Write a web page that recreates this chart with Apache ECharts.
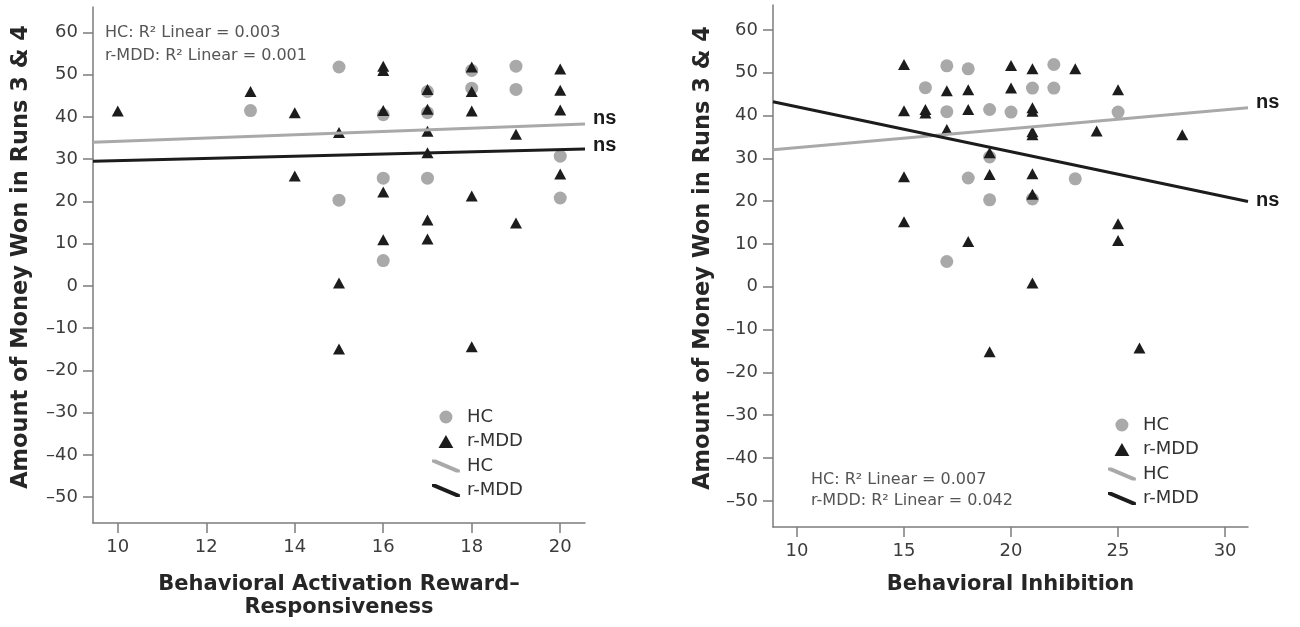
<!DOCTYPE html>
<html>
<head>
<meta charset="utf-8">
<script src="https://cdn.jsdelivr.net/npm/echarts@6/dist/echarts.min.js"></script>
<style>
  html, body { margin: 0; background: #fff; }
  #chart { width: 1300px; height: 627px; }
</style>
</head>
<body>
<div id="chart"></div>
<script>
// left panel: BAS reward responsiveness
const baHcX = [13, 15, 15, 16, 16, 16, 17, 17, 17, 18, 18, 19, 19, 20, 20];
const baHcY = [41.5, 51.8, 20.3, 40.5, 25.5, 6, 46, 41, 25.5, 51, 46.8, 52, 46.5, 30.7, 20.8];
const baMddX = [10, 13, 14, 14, 15, 15, 15, 16, 16, 16, 16, 16, 17, 17, 17, 17, 17, 17, 18, 18, 18, 18, 18, 19, 19, 20, 20, 20, 20];
const baMddY = [41.4, 46, 41, 26, 36.3, 0.7, -14.9, 52, 51, 41.5, 22.2, 10.9, 46.5, 41.8, 36.6, 31.5, 15.6, 11.1, 51.8, 46, 41.4, 21.3, -14.4, 35.9, 14.9, 51.3, 46.3, 41.6, 26.5];
const baHcFit = [[9.44, 34.0], [20.56, 38.3]];
const baMddFit = [[9.44, 29.5], [20.56, 32.4]];

// right panel: behavioral inhibition
const biHcX = [16, 17, 17, 17, 18, 18, 19, 19, 19, 20, 21, 21, 22, 22, 23, 25];
const biHcY = [46.5, 51.6, 40.9, 5.9, 50.9, 25.4, 41.4, 30.3, 20.3, 40.8, 46.4, 20.5, 51.9, 46.4, 25.2, 40.8];
const biMddX = [15, 15, 15, 15, 16, 16, 17, 17, 18, 18, 18, 19, 19, 19, 20, 20, 21, 21, 21, 21, 21, 21, 21, 21, 23, 24, 25, 25, 25, 26, 28];
const biMddY = [51.9, 41.1, 25.7, 15.2, 41.4, 40.6, 45.8, 36.7, 46, 41.4, 10.6, 31.3, 26.2, -15.2, 51.7, 46.4, 50.9, 41.8, 41, 36.2, 35.5, 26.4, 21.6, 0.9, 50.9, 36.4, 46, 14.7, 10.8, -14.3, 35.5];
const biHcFit = [[8.88, 32.0], [31.07, 41.8]];
const biMddFit = [[8.88, 43.2], [31.07, 19.9]];

const yTicks = [-50, -40, -30, -20, -10, 0, 10, 20, 30, 40, 50, 60];
const baTicks = [10, 12, 14, 16, 18, 20];
const biTicks = [10, 15, 20, 25, 30];

const font = 'DejaVu Sans';
const grey = '#a9a9a9';
const dark = '#1c1c1c';
const axisCol = '#7c7c7c';
const fitIcon = 'path://M0,0 L4,0 L30,11 L30,14 L26,14 L0,3 Z';
const triIcon = 'path://M6,0 L12,10.5 L0,10.5 Z';

const zip = (xs, ys) => xs.map((x, i) => [x, ys[i]]);
const dash = (v) => String(v).replace('-', '\u2013');

const xAxisOf = (idx, min, max, ticks, name, gap) => ({
  type: 'value',
  gridIndex: idx,
  min,
  max,
  name,
  nameLocation: 'middle',
  nameGap: gap,
  nameTextStyle: { fontFamily: font, fontWeight: 'bold', fontSize: 21, color: '#262626', lineHeight: 23 },
  axisLine: { onZero: false, lineStyle: { color: axisCol, width: 1.5 } },
  axisTick: { show: true, length: 10, customValues: ticks, lineStyle: { color: axisCol, width: 1.5 } },
  axisLabel: { customValues: ticks, margin: 15, fontFamily: font, fontSize: 18, color: '#3c3c3c' },
  splitLine: { show: false },
});

const yAxisOf = (idx, min, max, gap) => ({
  type: 'value',
  gridIndex: idx,
  min,
  max,
  name: 'Amount of Money Won in Runs 3 & 4',
  nameLocation: 'middle',
  nameGap: gap,
  nameTextStyle: { fontFamily: font, fontWeight: 'bold', fontSize: 22.5, color: '#262626', padding: [0, 0, 0, 16] },
  axisLine: { onZero: false, lineStyle: { color: axisCol, width: 1.5 } },
  axisTick: { show: true, length: 10, customValues: yTicks, lineStyle: { color: axisCol, width: 1.5 } },
  axisLabel: { customValues: yTicks, margin: 15, fontFamily: font, fontSize: 18, color: '#3c3c3c', formatter: dash },
  splitLine: { show: false },
});

const dots = (idx, name, data) => ({
  type: 'scatter',
  name,
  xAxisIndex: idx,
  yAxisIndex: idx,
  data,
  symbol: name === 'HC' ? 'circle' : 'triangle',
  symbolSize: name === 'HC' ? 13 : [12, 11],
  itemStyle: { color: name === 'HC' ? grey : dark, opacity: 1 },
  z: name === 'HC' ? 2 : 3,
  silent: true,
});

const fit = (idx, name, data, labelOffset) => ({
  type: 'line',
  name,
  xAxisIndex: idx,
  yAxisIndex: idx,
  data,
  symbol: 'none',
  showSymbol: false,
  lineStyle: { color: name === 'HC fit' ? grey : dark, width: 3 },
  itemStyle: { color: name === 'HC fit' ? grey : dark, borderWidth: 0 },
  endLabel: {
    show: true,
    formatter: 'ns',
    distance: 8,
    offset: labelOffset,
    fontFamily: 'Liberation Sans',
    fontWeight: 'bold',
    fontSize: 20,
    color: '#1a1a1a',
  },
  z: 4,
  silent: true,
  animation: false,
});

const legendAt = (left, top) => ({
  orient: 'vertical',
  left,
  top,
  itemWidth: 30,
  itemHeight: 13,
  itemGap: 6.5,
  selectedMode: false,
  formatter: (n) => n.replace(' fit', ''),
  textStyle: { fontFamily: font, fontSize: 18, color: '#333', padding: [0, 0, 0, 1] },
  data: [
    { name: 'HC', icon: 'circle' },
    { name: 'r-MDD', icon: triIcon },
    { name: 'HC fit', icon: fitIcon },
    { name: 'r-MDD fit', icon: fitIcon },
  ],
});

const option = {
  animation: false,
  backgroundColor: '#fff',
  grid: [
    { left: 93, top: 7, width: 492, height: 516, outerBoundsMode: 'none', containLabel: false },
    { left: 773, top: 5, width: 475, height: 522, outerBoundsMode: 'none', containLabel: false },
  ],
  xAxis: [
    xAxisOf(0, 9.44, 20.56, baTicks, 'Behavioral Activation Reward\u2013\nResponsiveness', 50),
    xAxisOf(1, 8.88, 31.07, biTicks, 'Behavioral Inhibition', 46),
  ],
  yAxis: [
    yAxisOf(0, -56.1, 66, 60),
    yAxisOf(1, -56.1, 65.8, 58),
  ],
  legend: [legendAt(427, 403), legendAt(1103, 411)],
  graphic: [
    {
      type: 'text',
      left: 105,
      top: 21,
      style: {
        text: 'HC: R\u00b2 Linear = 0.003\nr-MDD: R\u00b2 Linear = 0.001',
        fontFamily: font,
        fontSize: 16,
        lineHeight: 23,
        fill: '#555',
      },
    },
    {
      type: 'text',
      left: 811,
      top: 469,
      style: {
        text: 'HC: R\u00b2 Linear = 0.007\nr-MDD: R\u00b2 Linear = 0.042',
        fontFamily: font,
        fontSize: 16,
        lineHeight: 21,
        fill: '#555',
      },
    },
  ],
  series: [
    dots(0, 'HC', zip(baHcX, baHcY)),
    dots(0, 'r-MDD', zip(baMddX, baMddY)),
    fit(0, 'HC fit', baHcFit, [0, -6]),
    fit(0, 'r-MDD fit', baMddFit, [0, -4]),
    dots(1, 'HC', zip(biHcX, biHcY)),
    dots(1, 'r-MDD', zip(biMddX, biMddY)),
    fit(1, 'HC fit', biHcFit, [0, -5]),
    fit(1, 'r-MDD fit', biMddFit, [0, -1]),
  ],
};

const chart = echarts.init(document.getElementById('chart'));
chart.setOption(option);
</script>
</body>
</html>
